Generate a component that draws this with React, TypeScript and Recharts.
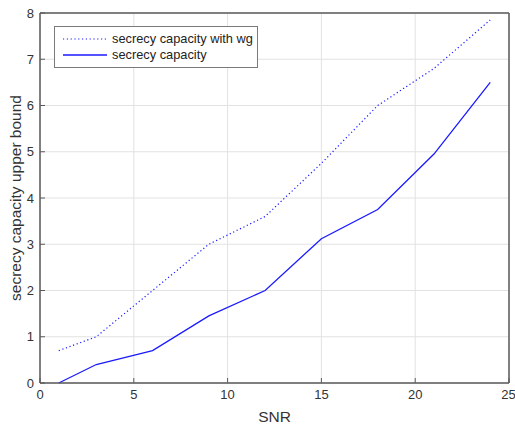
import React from 'react';
import { LineChart, Line, XAxis, YAxis, CartesianGrid, Legend, Label, ReferenceArea } from 'recharts';

// values
const snr = [1, 3, 6, 9, 12, 15, 18, 21, 24];
const capacityWithWg = [0.7, 1.0, 2.0, 3.0, 3.6, 4.75, 6.0, 6.8, 7.85];
const capacity = [0, 0.4, 0.7, 1.45, 2.0, 3.12, 3.75, 4.95, 6.5];

const xTicks = [0, 5, 10, 15, 20, 25];
const yTicks = [0, 1, 2, 3, 4, 5, 6, 7, 8];

const seriesInfo = [
  { key: 'withWg', name: 'secrecy capacity with wg', dash: '1.2 2.6' },
  { key: 'plain', name: 'secrecy capacity', dash: undefined },
];

const data = snr.map((x, i) => ({
  snr: x,
  withWg: capacityWithWg[i],
  plain: capacity[i],
}));

const FONT = '"Liberation Sans", Arial, Helvetica, sans-serif';
const AXIS = '#5a5a5a';
const BLUE = '#1a1aff';

function BoxLegend() {
  return (
    <div
      style={{
        width: 202,
        height: 36,
        border: '1px solid #7a7a7a',
        background: '#fff',
        paddingTop: 4,
        boxSizing: 'content-box',
        fontFamily: FONT,
        fontSize: 12.8,
        color: '#222',
      }}
    >
      {seriesInfo.map((s) => (
        <div key={s.key} style={{ display: 'flex', alignItems: 'center', height: 16 }}>
          <svg width={57} height={16} style={{ display: 'block' }}>
            <line
              x1={8}
              x2={52}
              y1={8}
              y2={8}
              stroke={BLUE}
              strokeWidth={s.dash ? 1 : 1.4}
              strokeDasharray={s.dash}
            />
          </svg>
          <span style={{ whiteSpace: 'nowrap', lineHeight: '16px' }}>{s.name}</span>
        </div>
      ))}
    </div>
  );
}

export default function App() {
  const tickStyle = { fill: '#333', fontSize: 13, fontFamily: FONT };
  return (
    <div style={{ position: 'absolute', left: 0, top: 0, background: '#fff' }}>
      <LineChart
        width={515}
        height={426}
        data={data}
        margin={{ top: 12, right: 5, left: 0, bottom: 0 }}
      >
        <CartesianGrid xAxisId="b" yAxisId="l" stroke="#e2e2e2" strokeWidth={1} />
        <XAxis
          xAxisId="b"
          dataKey="snr"
          type="number"
          domain={[0, 25]}
          ticks={xTicks}
          height={43}
          stroke={AXIS}
          tickLine={{ stroke: AXIS }}
          tickSize={-5}
          tickMargin={12}
          tick={tickStyle}
        >
          <Label
            value="SNR"
            position="insideBottom"
            offset={4}
            style={{ fontSize: 15.5, fontFamily: FONT, fill: '#333' }}
          />
        </XAxis>
        <XAxis
          xAxisId="t"
          orientation="top"
          dataKey="snr"
          type="number"
          domain={[0, 25]}
          ticks={xTicks}
          height={1}
          stroke={AXIS}
          tickLine={{ stroke: AXIS }}
          tickSize={-5}
          tick={false}
        />
        <YAxis
          yAxisId="l"
          type="number"
          domain={[0, 8]}
          ticks={yTicks}
          width={40}
          stroke={AXIS}
          tickLine={{ stroke: AXIS }}
          tickSize={-5}
          tickMargin={11}
          tick={tickStyle}
        >
          <Label
            value="secrecy capacity upper bound"
            angle={-90}
            position="center"
            dx={-5}
            style={{ fontSize: 15.5, fontFamily: FONT, fill: '#333', textAnchor: 'middle' }}
          />
        </YAxis>
        <YAxis
          yAxisId="r"
          orientation="right"
          type="number"
          domain={[0, 8]}
          ticks={yTicks}
          width={1}
          stroke={AXIS}
          tickLine={{ stroke: AXIS }}
          tickSize={-5}
          tick={false}
        />
        <ReferenceArea
          xAxisId="b"
          yAxisId="l"
          x1={0}
          x2={25}
          y1={0}
          y2={8}
          fill="none"
          stroke={AXIS}
          strokeWidth={1}
          ifOverflow="visible"
        />
        <Legend
          layout="vertical"
          align="center"
          verticalAlign="middle"
          content={() => <BoxLegend />}
          wrapperStyle={{ left: 54, top: 26, width: 204, height: 40 }}
        />
        {seriesInfo.map((s) => (
          <Line
            key={s.key}
            xAxisId="b"
            yAxisId="l"
            dataKey={s.key}
            name={s.name}
            type="linear"
            stroke={BLUE}
            strokeWidth={s.dash ? 1.2 : 1.3}
            strokeDasharray={s.dash}
            dot={false}
            activeDot={false}
            isAnimationActive={false}
          />
        ))}
      </LineChart>
    </div>
  );
}
